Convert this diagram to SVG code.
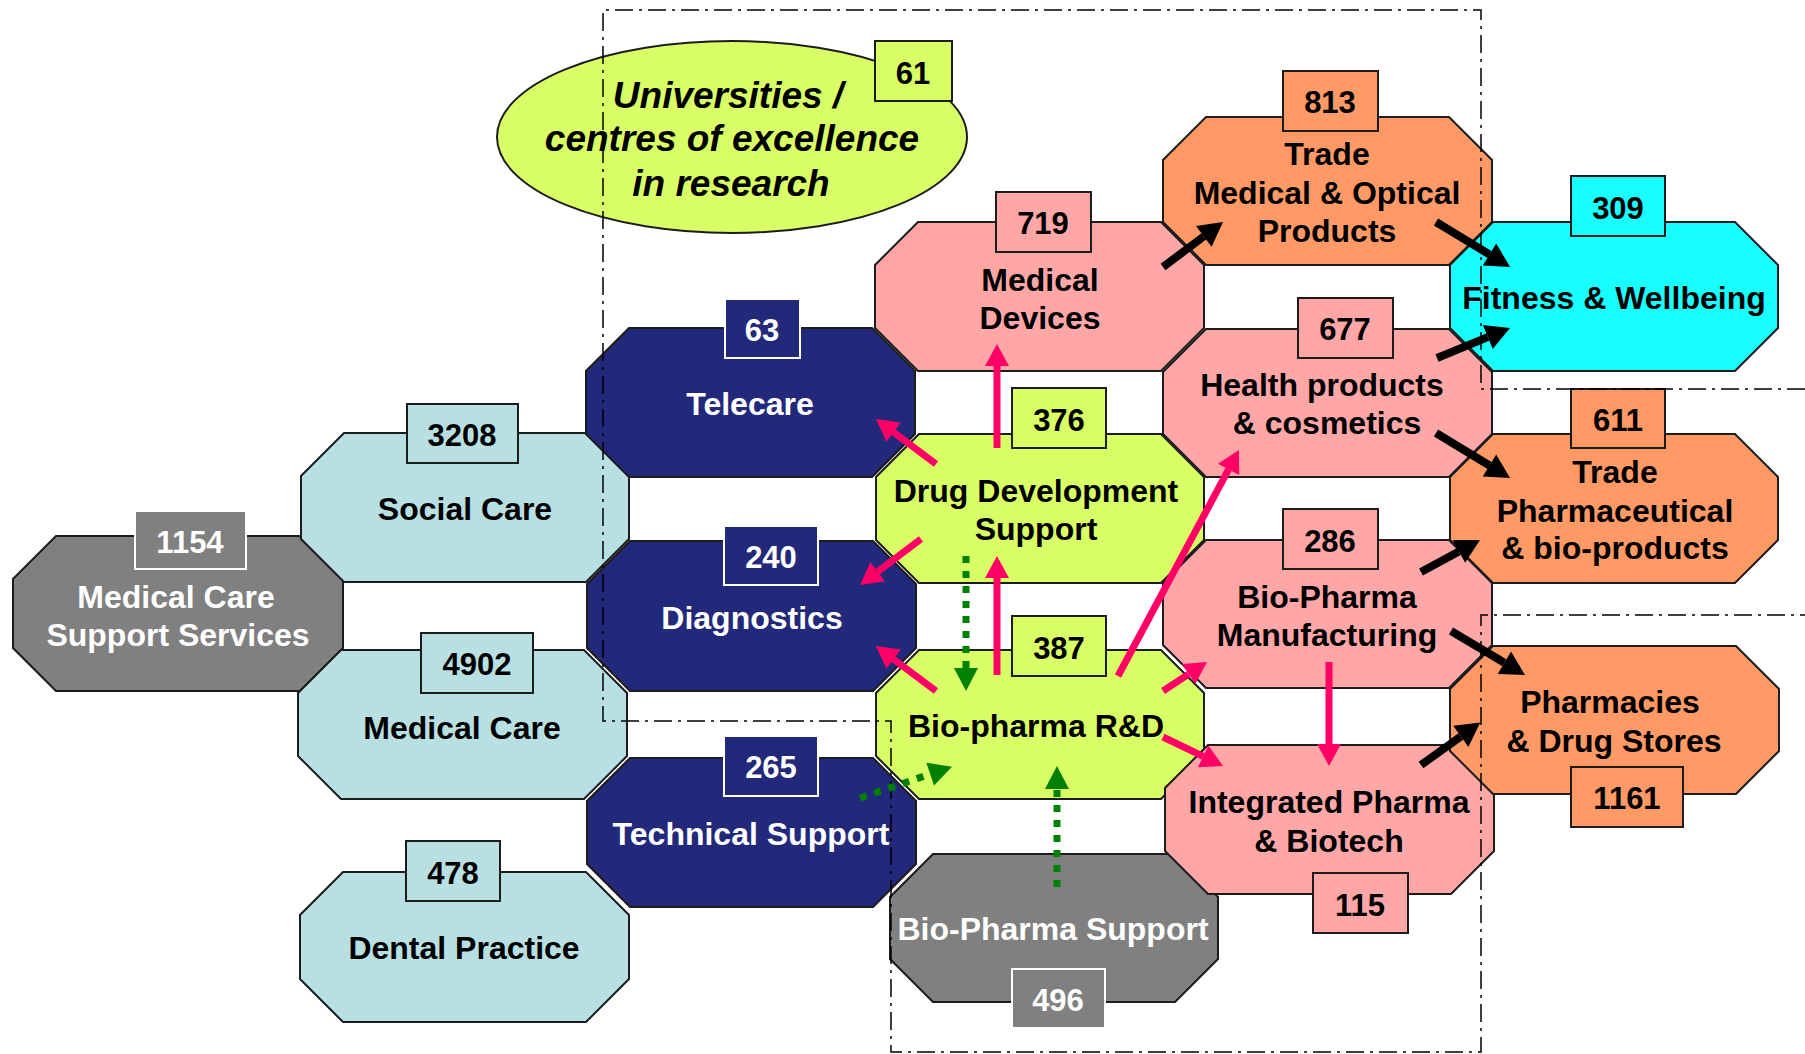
<svg xmlns="http://www.w3.org/2000/svg" width="1805" height="1054" viewBox="0 0 1805 1054">
<style>
.oct{stroke:#1c1c1c;stroke-width:2;stroke-linejoin:miter}
.num{stroke:#1c1c1c;stroke-width:2}
.numw{stroke:#ffffff;stroke-width:2}
.gray{fill:#808080}.lb{fill:#B8E0E3}.navy{fill:#23297A}.yg{fill:#D9FF66}.pk{fill:#FFA6A6}.or{fill:#FF9966}.cy{fill:#19FFFF}
text{font-family:"Liberation Sans",Arial,sans-serif;font-weight:bold;text-anchor:middle;fill:#000}
.lbl{font-size:32px}
.nt{font-size:31px}
.w{fill:#ffffff}
.it{font-size:37px;font-style:italic}
.pa{stroke:#FF0066;stroke-width:7;fill:none;marker-end:url(#hp)}
.ba{stroke:#000000;stroke-width:8;fill:none;marker-end:url(#hb)}
.ga{stroke:#008000;stroke-width:7;fill:none;stroke-dasharray:7 8;marker-end:url(#hg)}
.frame{fill:none;stroke:#000;stroke-width:1.5;stroke-dasharray:18 6 3 6}
</style>
<defs>
<marker id="hp" markerUnits="userSpaceOnUse" markerWidth="22" markerHeight="24" refX="0" refY="12" orient="auto" overflow="visible"><path d="M0,0 L22,12 L0,24 Z" fill="#FF0066"/></marker>
<marker id="hb" markerUnits="userSpaceOnUse" markerWidth="24" markerHeight="26" refX="0" refY="13" orient="auto" overflow="visible"><path d="M0,0 L24,13 L0,26 Z" fill="#000000"/></marker>
<marker id="hg" markerUnits="userSpaceOnUse" markerWidth="23" markerHeight="24" refX="0" refY="12" orient="auto" overflow="visible"><path d="M0,0 L23,12 L0,24 Z" fill="#008000"/></marker>
</defs>
<rect width="1805" height="1054" fill="#ffffff"/>

<g id="universities">
<ellipse cx="732" cy="137" rx="235" ry="96" class="yg" stroke="#1c1c1c" stroke-width="2"/>
<rect x="875" y="41" width="77" height="60" class="yg num"/>
<text x="913" y="84" class="nt">61</text>
<text x="728" y="108" class="it">Universities /</text>
<text x="732" y="151" class="it">centres of excellence</text>
<text x="731" y="196" class="it">in research</text>
</g>

<g id="mcss">
<polygon class="oct gray" points="56,536 300,536 343,579 343,648 300,691 56,691 13,648 13,579"/>
<rect x="135" y="511" width="111" height="58" class="gray numw"/>
<text x="190" y="553" class="nt w">1154</text>
<text x="176" y="608" class="lbl w">Medical Care</text>
<text x="178" y="646" class="lbl w">Support Services</text>
</g>

<g id="social-care">
<polygon class="oct lb" points="344,433 586,433 629,476 629,539 586,582 344,582 301,539 301,476"/>
<rect x="407" y="404" width="111" height="59" class="lb num"/>
<text x="462" y="446" class="nt">3208</text>
<text x="465" y="520" class="lbl">Social Care</text>
</g>

<g id="medical-care">
<polygon class="oct lb" points="341,650 584,650 627,693 627,756 584,799 341,799 298,756 298,693"/>
<rect x="421" y="633" width="112" height="60" class="lb num"/>
<text x="477" y="675" class="nt">4902</text>
<text x="462" y="739" class="lbl">Medical Care</text>
</g>

<g id="dental">
<polygon class="oct lb" points="343,872 586,872 629,915 629,979 586,1022 343,1022 300,979 300,915"/>
<rect x="406" y="841" width="94" height="60" class="lb num"/>
<text x="453" y="884" class="nt">478</text>
<text x="464" y="959" class="lbl">Dental Practice</text>
</g>

<g id="telecare">
<polygon class="oct navy" points="629,328 872,328 915,371 915,434 872,477 629,477 586,434 586,371"/>
<rect x="725" y="299" width="75" height="59" class="navy numw"/>
<text x="762" y="341" class="nt w">63</text>
<text x="750" y="415" class="lbl w">Telecare</text>
</g>

<g id="diagnostics">
<polygon class="oct navy" points="630,541 873,541 916,584 916,648 873,691 630,691 587,648 587,584"/>
<rect x="724" y="526" width="94" height="59" class="navy numw"/>
<text x="771" y="568" class="nt w">240</text>
<text x="752" y="629" class="lbl w">Diagnostics</text>
</g>

<g id="technical-support">
<polygon class="oct navy" points="630,758 873,758 916,801 916,864 873,907 630,907 587,864 587,801"/>
<rect x="724" y="736" width="94" height="60" class="navy numw"/>
<text x="771" y="778" class="nt w">265</text>
<text x="751" y="845" class="lbl w">Technical Support</text>
</g>

<g id="medical-devices">
<polygon class="oct pk" points="918,222 1161,222 1204,265 1204,328 1161,371 918,371 875,328 875,265"/>
<rect x="996" y="192" width="95" height="60" class="pk num"/>
<text x="1043" y="234" class="nt">719</text>
<text x="1040" y="291" class="lbl">Medical</text>
<text x="1040" y="329" class="lbl">Devices</text>
</g>

<g id="drug-development">
<polygon class="oct yg" points="919,434 1161,434 1204,477 1204,540 1161,583 919,583 876,540 876,477"/>
<rect x="1012" y="388" width="94" height="60" class="yg num"/>
<text x="1059" y="431" class="nt">376</text>
<text x="1036" y="502" class="lbl">Drug Development</text>
<text x="1036" y="540" class="lbl">Support</text>
</g>

<g id="biopharma-rd">
<polygon class="oct yg" points="919,650 1161,650 1204,693 1204,756 1161,799 919,799 876,756 876,693"/>
<rect x="1012" y="616" width="94" height="60" class="yg num"/>
<text x="1059" y="659" class="nt">387</text>
<text x="1036" y="737" class="lbl">Bio-pharma R&amp;D</text>
</g>

<g id="biopharma-support">
<polygon class="oct gray" points="933,854 1175,854 1218,897 1218,959 1175,1002 933,1002 890,959 890,897"/>
<rect x="1012" y="969" width="93" height="59" class="gray numw"/>
<text x="1058" y="1011" class="nt w">496</text>
<text x="1053" y="940" class="lbl w">Bio-Pharma Support</text>
</g>

<g id="trade-medical">
<polygon class="oct or" points="1206,117 1449,117 1492,160 1492,222 1449,265 1206,265 1163,222 1163,160"/>
<rect x="1283" y="71" width="95" height="60" class="or num"/>
<text x="1330" y="113" class="nt">813</text>
<text x="1327" y="165" class="lbl">Trade</text>
<text x="1327" y="204" class="lbl">Medical &amp; Optical</text>
<text x="1327" y="242" class="lbl">Products</text>
</g>

<g id="health-products">
<polygon class="oct pk" points="1206,329 1449,329 1492,372 1492,434 1449,477 1206,477 1163,434 1163,372"/>
<rect x="1298" y="298" width="95" height="60" class="pk num"/>
<text x="1345" y="340" class="nt">677</text>
<text x="1322" y="396" class="lbl">Health products</text>
<text x="1327" y="434" class="lbl">&amp; cosmetics</text>
</g>

<g id="biopharma-manufacturing">
<polygon class="oct pk" points="1206,540 1449,540 1492,583 1492,645 1449,688 1206,688 1163,645 1163,583"/>
<rect x="1283" y="509" width="95" height="60" class="pk num"/>
<text x="1330" y="552" class="nt">286</text>
<text x="1327" y="608" class="lbl">Bio-Pharma</text>
<text x="1327" y="646" class="lbl">Manufacturing</text>
</g>

<g id="integrated-pharma">
<polygon class="oct pk" points="1208,745 1451,745 1494,788 1494,851 1451,894 1208,894 1165,851 1165,788"/>
<rect x="1313" y="873" width="95" height="60" class="pk num"/>
<text x="1360" y="916" class="nt">115</text>
<text x="1329" y="813" class="lbl">Integrated Pharma</text>
<text x="1329" y="852" class="lbl">&amp; Biotech</text>
</g>

<g id="fitness">
<polygon class="oct cy" points="1493,222 1735,222 1778,265 1778,328 1735,371 1493,371 1450,328 1450,265"/>
<rect x="1571" y="176" width="94" height="60" class="cy num"/>
<text x="1618" y="219" class="nt">309</text>
<text x="1614" y="309" class="lbl">Fitness &amp; Wellbeing</text>
</g>

<g id="trade-pharma">
<polygon class="oct or" points="1493,434 1735,434 1778,477 1778,540 1735,583 1493,583 1450,540 1450,477"/>
<rect x="1571" y="389" width="94" height="59" class="or num"/>
<text x="1618" y="431" class="nt">611</text>
<text x="1615" y="483" class="lbl">Trade</text>
<text x="1615" y="522" class="lbl">Pharmaceutical</text>
<text x="1615" y="559" class="lbl">&amp; bio-products</text>
</g>

<g id="pharmacies">
<polygon class="oct or" points="1493,646 1736,646 1779,689 1779,751 1736,794 1493,794 1450,751 1450,689"/>
<rect x="1571" y="767" width="112" height="60" class="or num"/>
<text x="1627" y="809" class="nt">1161</text>
<text x="1610" y="713" class="lbl">Pharmacies</text>
<text x="1614" y="752" class="lbl">&amp; Drug Stores</text>
</g>

<g id="frame">
<polyline class="frame" points="1805,389 1481,389 1481,10 603,10 603,721 891,721 891,1052 1481,1052 1481,615 1805,615"/>
</g>

<g id="connectors">
<line class="pa" x1="997" y1="448" x2="997" y2="366"/>
<line class="pa" x1="936" y1="464" x2="893.6" y2="432.2"/>
<line class="pa" x1="921" y1="539" x2="877.6" y2="571.8"/>
<line class="pa" x1="997" y1="675" x2="997" y2="578"/>
<line class="pa" x1="936" y1="691" x2="893.6" y2="659.2"/>
<line class="pa" x1="1118" y1="676" x2="1228.6" y2="469.4"/>
<line class="pa" x1="1163" y1="691" x2="1188.6" y2="674.1"/>
<line class="pa" x1="1163" y1="737" x2="1203.2" y2="756.4"/>
<line class="pa" x1="1329" y1="662" x2="1329" y2="744"/>
<line class="ba" x1="1163" y1="267" x2="1203.8" y2="236.4"/>
<line class="ba" x1="1436" y1="222" x2="1489.5" y2="254.5"/>
<line class="ba" x1="1437" y1="358" x2="1487.8" y2="337.1"/>
<line class="ba" x1="1436" y1="433" x2="1489.5" y2="465.5"/>
<line class="ba" x1="1421" y1="572" x2="1458.9" y2="551.4"/>
<line class="ba" x1="1451" y1="631" x2="1504.4" y2="662.7"/>
<line class="ba" x1="1421" y1="765" x2="1460.8" y2="736.4"/>
<line class="ga" x1="966" y1="556" x2="966" y2="668"/>
<line class="ga" x1="860" y1="798" x2="930.2" y2="774.1"/>
<line class="ga" x1="1057" y1="887" x2="1057" y2="789"/>
</g>
</svg>
